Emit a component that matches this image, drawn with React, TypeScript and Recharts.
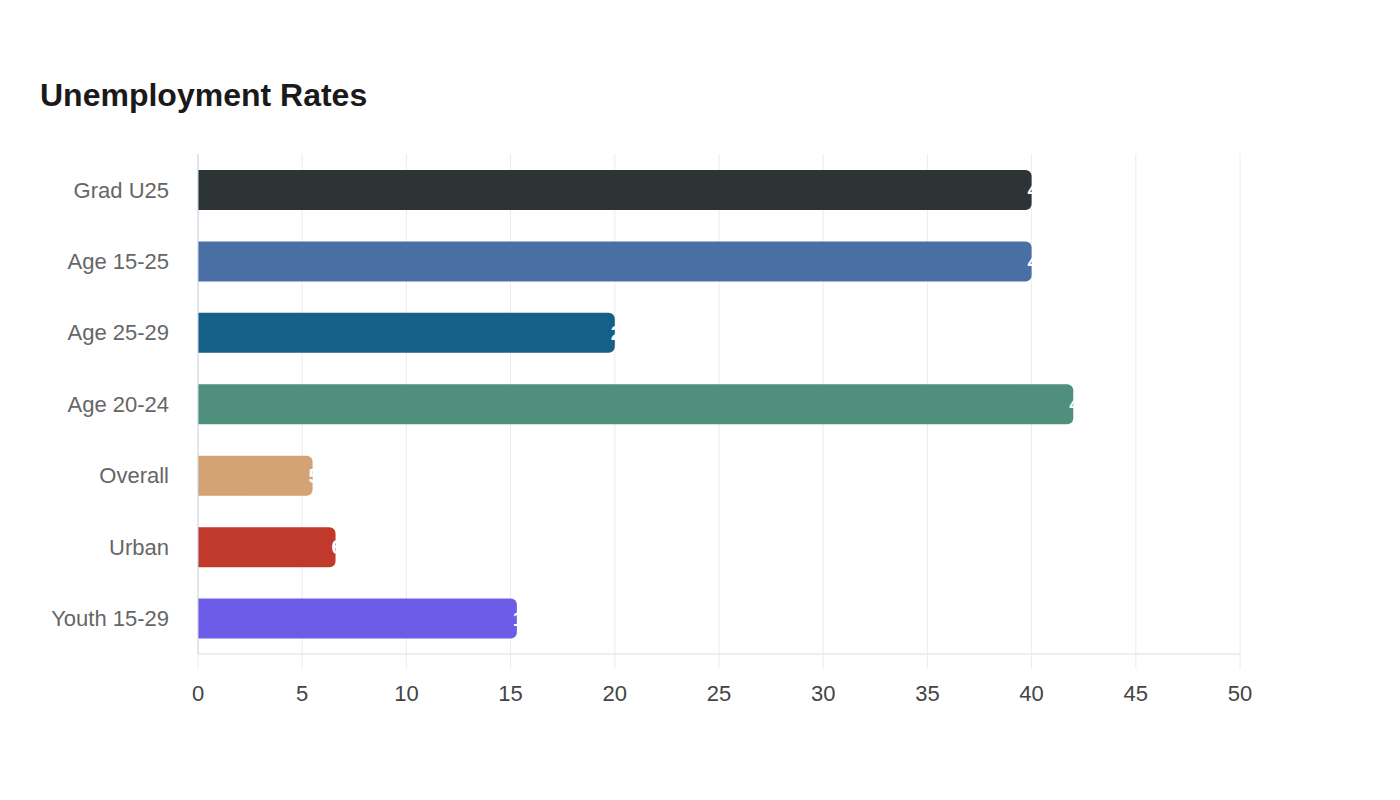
import { BarChart, Bar, XAxis, YAxis, CartesianGrid, Cell, LabelList } from 'recharts';

const categories = ['Grad U25', 'Age 15-25', 'Age 25-29', 'Age 20-24', 'Overall', 'Urban', 'Youth 15-29'];
const rates = [40, 40, 20, 42, 5.5, 6.6, 15.3];
const barColors = ['#2d3436', '#4a6fa5', '#166088', '#4f8f7b', '#d4a373', '#c0392b', '#6c5ce7'];
const xTicks = [0, 5, 10, 15, 20, 25, 30, 35, 40, 45, 50];

const data = categories.map((name, i) => ({ name, rate: rates[i] }));

const font = '"Liberation Sans", Arial, Helvetica, sans-serif';

export default function App() {
  return (
    <div style={{ position: 'absolute', top: 0, left: 0, width: 1400, height: 800, background: '#fff', fontFamily: font }}>
      {/* title */}
      <div
        style={{
          position: 'absolute',
          left: 40,
          top: 77,
          fontSize: 32,
          fontWeight: 700,
          color: '#1a1a1a',
          lineHeight: 'normal',
        }}
      >
        Unemployment Rates
      </div>

      <BarChart
        width={1400}
        height={800}
        data={data}
        layout="vertical"
        margin={{ top: 154, right: 160, left: 0, bottom: 86 }}
      >
        <CartesianGrid horizontal={false} stroke="#ececec" />

        <XAxis
          type="number"
          domain={[0, 50]}
          ticks={xTicks}
          interval={0}
          height={60}
          tickSize={15}
          tickMargin={16}
          tickLine={{ stroke: '#ececec' }}
          axisLine={{ stroke: '#dddddd' }}
          tick={{ fill: '#444444', fontSize: 22, fontFamily: font }}
        />

        <YAxis
          type="category"
          dataKey="name"
          width={198}
          tickLine={false}
          tickSize={6}
          tickMargin={23}
          axisLine={{ stroke: '#ccd6eb' }}
          tick={{ fill: '#666666', fontSize: 22, fontFamily: font }}
        />

        <Bar dataKey="rate" barSize={40} radius={[0, 6, 6, 0]} isAnimationActive={false}>
          {data.map((d, i) => (
            <Cell key={d.name} fill={barColors[i]} />
          ))}
          <LabelList
            dataKey="rate"
            position="right"
            offset={-4}
            fill="#ffffff"
            fontSize={20}
            fontWeight={700}
            fontFamily={font}
          />
        </Bar>
      </BarChart>
    </div>
  );
}
